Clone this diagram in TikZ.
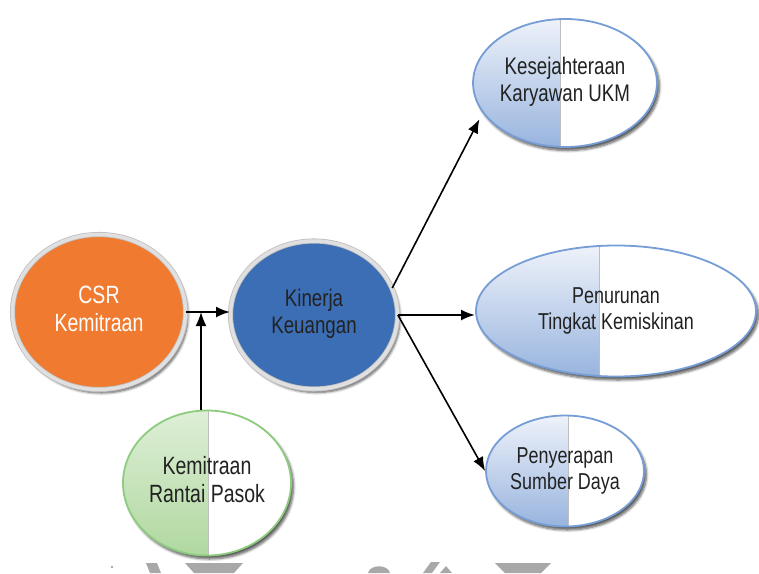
\documentclass[tikz,border=0pt]{standalone}
\usepackage{fontspec}
\setmainfont{Liberation Sans}[FakeStretch=0.78]
\usetikzlibrary{shapes.geometric,arrows.meta,shadows.blur}

\definecolor{orangefill}{RGB}{240,123,48}
\definecolor{kinblue}{RGB}{59,110,180}
\definecolor{ringfill}{RGB}{224,224,224}
\definecolor{ringedge}{RGB}{190,190,190}
\definecolor{blueedge}{RGB}{118,157,214}
\definecolor{bluetop}{RGB}{238,242,250}
\definecolor{bluebottom}{RGB}{152,180,222}
\definecolor{greenedge}{RGB}{141,203,126}
\definecolor{greentop}{RGB}{222,239,215}
\definecolor{greenbottom}{RGB}{176,216,160}
\definecolor{splitline}{RGB}{190,190,190}
\definecolor{txt}{RGB}{34,34,34}
\definecolor{wmark}{RGB}{168,168,168}

% two centred lines, lifted by #1
\newcommand\twolines[3]{\raisebox{#1}{\begin{tabular}{@{}c@{}}#2\\#3\end{tabular}}}

\begin{document}
\begin{tikzpicture}[x=1pt,y=-1pt,
  every node/.style={font=\fontsize{24}{27}\selectfont, align=center, text=txt},
  bigtext/.style={font=\fontsize{25}{28}\selectfont},
  smalltext/.style={font=\fontsize{23}{26}\selectfont},
  oval/.style={ellipse, inner sep=0pt},
  softshadow/.style={blur shadow={shadow xshift=2.5pt, shadow yshift=-3.5pt,
      shadow blur steps=6, shadow blur radius=2.5pt, shadow opacity=65}},
  ring/.style={oval, softshadow, draw=ringedge, line width=0.8pt,
      double=ringfill, double distance=3.5pt},
  halves/.style n args={4}{oval, softshadow, fill=white, draw=#1, line width=1.8pt,
    path picture={
      \shade[top color=#2, bottom color=#3]
        (path picture bounding box.north west) rectangle ([xshift=#4]path picture bounding box.south);
      \draw[splitline, line width=0.7pt]
        ([xshift=#4]path picture bounding box.north) -- ([xshift=#4]path picture bounding box.south);}},
  bluehalves/.style={halves={blueedge}{bluetop}{bluebottom}{#1}},
  greenhalves/.style={halves={greenedge}{greentop}{greenbottom}{#1}},
  flow/.style={-{Latex[length=14pt,width=11pt]}, line width=1.6pt},
  flowbold/.style={flow, line width=2.4pt},
]
\useasboundingbox (0,0) rectangle (759,573);

% input and central constructs
\node[ring, bigtext, fill=orangefill, minimum width=173pt, minimum height=155pt, text=white]
  (csr) at (99,312) {\twolines{5pt}{CSR}{Kemitraan}};
\node[ring, fill=kinblue, minimum width=167pt, minimum height=148pt]
  (kin) at (314,315) {\twolines{0pt}{Kinerja}{Keuangan}};
\node[greenhalves=1pt, bigtext, minimum width=168pt, minimum height=145pt]
  (rantai) at (207,483) {\twolines{2pt}{Kemitraan}{Rantai Pasok}};

% outcome constructs
\node[bluehalves=-5pt, minimum width=182pt, minimum height=128pt]
  (kes) at (565,83) {\twolines{7pt}{Kesejahteraan}{Karyawan UKM}};
\node[bluehalves=-17pt, smalltext, minimum width=280pt, minimum height=131pt]
  (pen) at (616,311) {\twolines{-3pt}{Penurunan}{Tingkat Kemiskinan}};
\node[bluehalves=3pt, smalltext, minimum width=158pt, minimum height=111pt]
  (pye) at (565,471) {\twolines{-5pt}{Penyerapan}{Sumber Daya}};

% connectors
\draw[flowbold] (csr.east) -- (csr.east -| kin.west);
\draw[flow] ([xshift=-6pt]rantai.north) -- ([xshift=-6pt]rantai.north |- csr.east);
\draw[flow, shorten >=7pt] (kin.19) -- (kes.200);
\draw[flowbold] (kin.east) -- (kin.east -| pen.west);
\draw[flow] (kin.east) -- (pye.west);

% grey logo fragments along the lower edge
\fill[wmark] (112,567) circle (1.3);
\fill[wmark] (146,563) -- (157,563) -- (161,573) -- (150,573) -- cycle;
\fill[wmark] (185,563) -- (243,563) -- (234,573) -- (194,573) -- cycle;
\fill[wmark] (368,573) .. controls (370,564) and (388,564) .. (390,573) -- cycle;
\fill[wmark] (423,573) -- (431,562) -- (440,562) -- (432,573) -- cycle;
\fill[wmark] (440,573) -- (446,566) -- (452,573) -- cycle;
\fill[wmark] (495,563) -- (551,563) -- (541,573) -- (505,573) -- cycle;
\end{tikzpicture}
\end{document}
